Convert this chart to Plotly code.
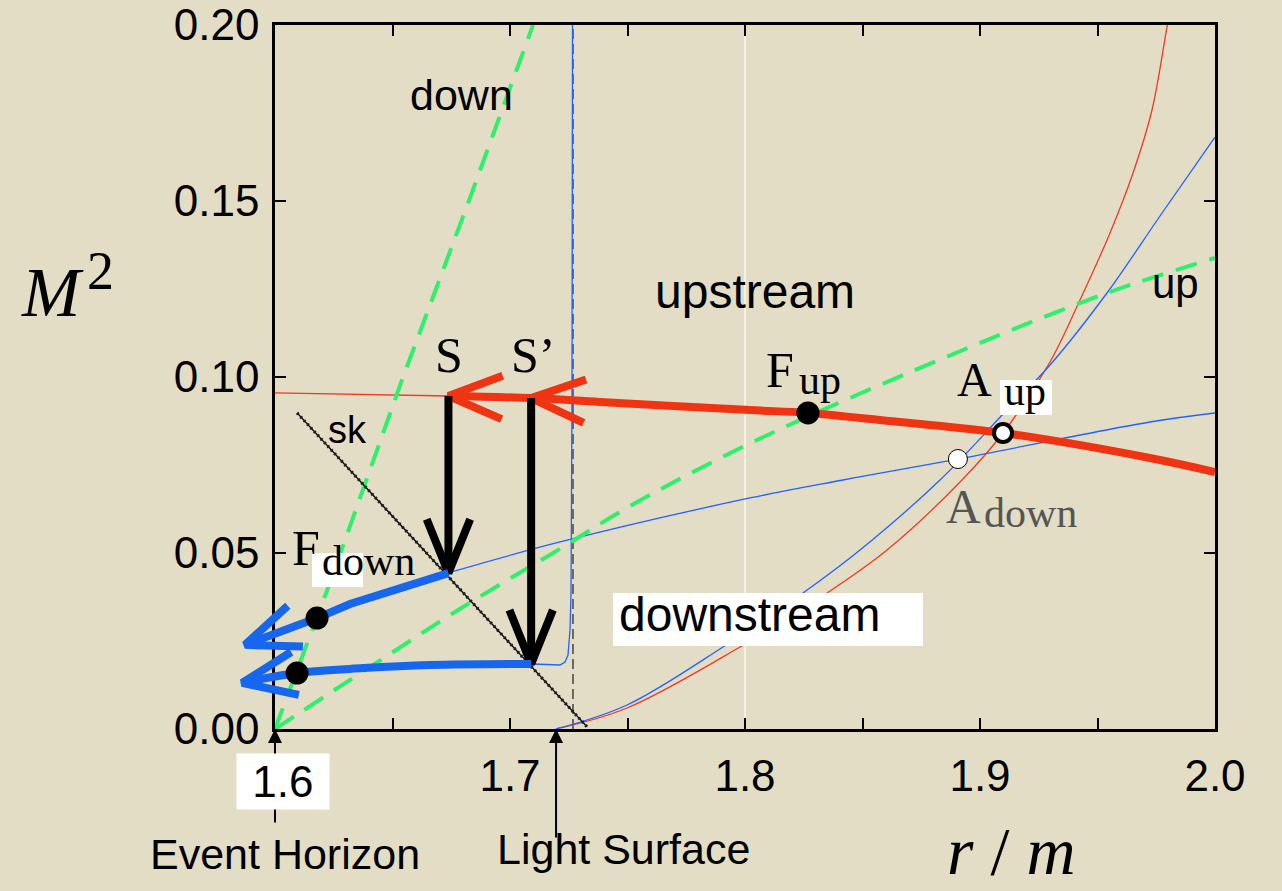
import math
import plotly.graph_objects as go

# ---------------- data (r/m , M^2) ----------------
x_range = [1.6, 2.0]
y_range = [0.0, 0.2]
x_tick_vals = [1.6, 1.65, 1.7, 1.75, 1.8, 1.85, 1.9, 1.95, 2.0]
x_tick_text = ["", "", "1.7", "", "1.8", "", "1.9", "", "2.0"]
y_tick_vals = [0.0, 0.05, 0.10, 0.15, 0.20]
y_tick_text = ["0.00", "0.05", "0.10", "0.15", "0.20"]

light_surface_r = 1.7268
event_horizon_r = 1.6
light_arrow_r = 1.7196

# thick red: upstream flow line (from S to the right edge)
up_flow_r = [1.6738, 1.7090, 1.7383, 1.8021, 1.8268, 1.8660, 1.9098, 1.9723, 2.0]
up_flow_m2 = [0.0946, 0.0940, 0.0929, 0.0906, 0.0898, 0.0872, 0.0841, 0.0770, 0.0730]
# thin red continuation left of S
up_thin_r = [1.6, 1.6738]
up_thin_m2 = [0.0955, 0.0946]

# thin red rising branch
red_rise_r = [1.71957, 1.74979, 1.79787, 1.83489, 1.86043, 1.89234, 1.90979, 1.92979,
              1.94255, 1.95532, 1.96511, 1.97319, 1.97957, 1.98021]
red_rise_m2 = [0.0, 0.00597, 0.02330, 0.03864, 0.05085, 0.07074, 0.08409, 0.10426,
               0.12188, 0.14091, 0.15795, 0.17585, 0.19943, 0.20142]

# thin blue rising branch (through A_down)
blue_rise_r = [1.71957, 1.74979, 1.79064, 1.82468, 1.84894, 1.88298, 1.91064, 1.92979,
               1.95404, 1.97660, 2.0]
blue_rise_m2 = [0.0, 0.00682, 0.02330, 0.03864, 0.05085, 0.07074, 0.09006, 0.10341,
                0.12386, 0.14574, 0.16818]

# thin blue shallow branch (S -> right edge, through A_down)
blue_flat_r = [1.67362, 1.72128, 1.80213, 1.84170, 1.89064, 1.97234, 2.0]
blue_flat_m2 = [0.04432, 0.05313, 0.06563, 0.07074, 0.07670, 0.08722, 0.08977]

# thin blue branch hugging the light surface (from S' bottom)
blue_ls_r = [1.70936, 1.72128, 1.72340, 1.72468, 1.72553, 1.72596, 1.72638, 1.72660]
blue_ls_m2 = [0.01847, 0.01818, 0.01903, 0.02102, 0.02813, 0.03864, 0.09347, 0.20142]

# green dashed lines
green_down_r = [1.6, 1.6225, 1.6545, 1.6825, 1.7098]
green_down_m2 = [0.0, 0.0400, 0.1000, 0.1500, 0.2000]
green_up_r = [1.6, 1.64043, 1.68, 1.72255, 1.75021, 1.80511, 1.89277, 1.95404, 2.0]
green_up_m2 = [0.0, 0.01761, 0.03466, 0.05170, 0.06300, 0.08210, 0.10767, 0.12386, 0.13380]

# shock line "sk"
sk_r = [1.6094, 1.7328]
sk_m2 = [0.0898, 0.0006]

# shocks S and S'
S_r, S_top, S_bot = 1.6738, 0.0946, 0.0443
Sp_r, Sp_top, Sp_bot = 1.7090, 0.0940, 0.0185

# thick blue downstream flows (ending in arrows beyond the horizon)
down1_r = [1.6738, 1.6532, 1.6319, 1.6179, 1.5872]
down1_m2 = [0.0443, 0.0401, 0.0355, 0.0315, 0.0239]
down2_r = [1.7090, 1.6660, 1.6375, 1.6094, 1.5860]
down2_m2 = [0.0185, 0.0182, 0.0173, 0.0159, 0.0131]

# critical points
F_up = (1.8268, 0.0898)
A_up = (1.9098, 0.0841)
A_down = (1.8906, 0.0767)
F_down_r = [1.6179, 1.6094]
F_down_m2 = [0.0315, 0.0159]

# ---------------- layout constants ----------------
W, H = 1282, 891
ML, MR, MT, MB = 200, 67, 25, 162
AREA_W = W - ML - MR
EXT_PX = 75
PLOT_W = AREA_W - EXT_PX
PLOT_H = H - MT - MB
KX = PLOT_W / (x_range[1] - x_range[0])
KY = PLOT_H / (y_range[1] - y_range[0])
dom0 = EXT_PX / AREA_W
x2_range = [x_range[0] - EXT_PX / KX, x_range[1]]

BG = "#e3ddc5"
RED = "#ef3414"
RED_T = "#f03a22"
BLUE = "#1766ee"
BLUE_T = "#2262ff"
GREEN = "#2ef06a"
SANS = "Liberation Sans"
SERIF = "Liberation Serif"

fig = go.Figure()


def add_line(x, y, color, width, dash=None, axis="x", shape="linear"):
    fig.add_trace(go.Scatter(x=x, y=y, mode="lines", xaxis=axis, yaxis="y",
                             line=dict(color=color, width=width, dash=dash, shape=shape),
                             hoverinfo="skip", showlegend=False))


def chevron(tip, tail, length=58.0, half_angle=22.0):
    dx = (tail[0] - tip[0]) * KX
    dy = (tail[1] - tip[1]) * KY
    n = math.hypot(dx, dy)
    ux, uy = dx / n, dy / n
    pts = []
    for s in (1, -1):
        a = math.radians(half_angle * s)
        rx = ux * math.cos(a) - uy * math.sin(a)
        ry = ux * math.sin(a) + uy * math.cos(a)
        pts.append((tip[0] + rx * length / KX, tip[1] + ry * length / KY))
    return [pts[0][0], tip[0], pts[1][0]], [pts[0][1], tip[1], pts[1][1]]


# artefact white vertical line
add_line([1.8, 1.8], y_range, "white", 1.2)
# light surface
add_line([light_surface_r, light_surface_r], y_range, "#444444", 1.5, dash="10px,5px")
# thin curves
add_line(red_rise_r, red_rise_m2, RED_T, 1.3, shape="spline")
add_line(blue_rise_r, blue_rise_m2, BLUE_T, 1.3, shape="spline")
add_line(blue_flat_r, blue_flat_m2, BLUE_T, 1.3, shape="spline")
add_line(blue_ls_r, blue_ls_m2, BLUE_T, 1.3)
add_line(up_thin_r, up_thin_m2, RED_T, 1.3)
# green dashed
add_line(green_down_r, green_down_m2, GREEN, 4, dash="22px,13px")
add_line(green_up_r, green_up_m2, GREEN, 4, dash="22px,13px", shape="spline")
# sk line
add_line(sk_r, sk_m2, "black", 1.4)
add_line(sk_r, sk_m2, "#222222", 3.2, dash="2px,3px")
# thick red upstream flow + chevrons
add_line(up_flow_r, up_flow_m2, RED, 8, shape="spline")
for tip, tail in [((S_r, S_top), (Sp_r, Sp_top)), ((Sp_r, Sp_top), (up_flow_r[2], up_flow_m2[2]))]:
    cx, cy = chevron(tip, tail)
    add_line(cx, cy, RED, 8)
# black shock jumps
for r, top, bot in [(S_r, S_top, S_bot), (Sp_r, Sp_top, Sp_bot)]:
    add_line([r, r], [top, bot], "black", 8)
    cx, cy = chevron((r, bot), (r, top))
    add_line(cx, cy, "black", 8)
# thick blue downstream flows (on extended subplot so arrows pass the horizon)
add_line(down1_r, down1_m2, BLUE, 8, axis="x2")
add_line(down2_r, down2_m2, BLUE, 8, axis="x2", shape="spline")
for rr, mm in [(down1_r, down1_m2), (down2_r, down2_m2)]:
    cx, cy = chevron((rr[-1], mm[-1]), (rr[-2], mm[-2]))
    add_line(cx, cy, BLUE, 8, axis="x2")

# markers
fig.add_trace(go.Scatter(x=[F_up[0]], y=[F_up[1]], mode="markers", xaxis="x", yaxis="y",
                         marker=dict(size=23, color="black"), hoverinfo="skip", showlegend=False))
fig.add_trace(go.Scatter(x=[A_down[0]], y=[A_down[1]], mode="markers", xaxis="x", yaxis="y",
                         marker=dict(size=19, color="white", line=dict(color="black", width=1)),
                         hoverinfo="skip", showlegend=False))
fig.add_trace(go.Scatter(x=[A_up[0]], y=[A_up[1]], mode="markers", xaxis="x", yaxis="y",
                         marker=dict(size=18, color="white", line=dict(color="black", width=4)),
                         hoverinfo="skip", showlegend=False))
fig.add_trace(go.Scatter(x=F_down_r, y=F_down_m2, mode="markers", xaxis="x2", yaxis="y",
                         marker=dict(size=23, color="black"), hoverinfo="skip", showlegend=False))

# white label boxes
for x0, x1, y0, y1 in [(1.74383, 1.87574, 0.02358, 0.03864),
                       (1.90851, 1.93064, 0.08920, 0.09915),
                       (1.61574, 1.63745, 0.04034, 0.05000)]:
    fig.add_shape(type="rect", xref="x", yref="y", x0=x0, x1=x1, y0=y0, y1=y1,
                  fillcolor="white", line=dict(width=0), layer="above")

ann = []


def label(text, x, y, size, family, color="black", xanchor="center", xref="x", yref="y",
          yanchor="middle", **kw):
    ann.append(dict(text=text, x=x, y=y, xref=xref, yref=yref, showarrow=False,
                    xanchor=xanchor, yanchor=yanchor,
                    font=dict(family=family, size=size, color=color), **kw))


# arrows for event horizon / light surface
ann.append(dict(text="", x=event_horizon_r, y=0, xref="x", yref="y", ax=0, ay=95,
                showarrow=True, arrowhead=2, arrowsize=1.4, arrowwidth=2, arrowcolor="black", standoff=0))
ann.append(dict(text="", x=light_arrow_r, y=0, xref="x", yref="y", ax=0, ay=110,
                showarrow=True, arrowhead=2, arrowsize=1.4, arrowwidth=2, arrowcolor="black", standoff=0))
# 1.6 tick label with white box
label("\u00a01.6\u00a0", 0.0818, -0.074, 44, SANS, xref="paper", yref="paper",
      bgcolor="white", borderpad=3)

label("S", 1.67404, 0.10625, 50, SERIF)
label("S\u2019", 1.70979, 0.10625, 50, SERIF)
label("F", 1.81489, 0.10199, 50, SERIF)
label("up", 1.82213, 0.09915, 42, SERIF, xanchor="left")
label("A", 1.89787, 0.09915, 48, SERIF)
label("up", 1.90936, 0.09602, 42, SERIF, xanchor="left")
label("A", 1.89277, 0.06307, 48, SERIF, color="#555555")
label("down", 1.90085, 0.06136, 42, SERIF, color="#555555", xanchor="left")
label("F", 1.61319, 0.05142, 50, SERIF)
label("down", 1.61915, 0.04773, 42, SERIF, xanchor="left")
label("sk", 1.63064, 0.08494, 38, SANS)
label("down", 1.67915, 0.18011, 43, SANS)
label("up", 1.98298, 0.12670, 42, SANS)
label("upstream", 1.80426, 0.12443, 48, SANS)
label("downstream", 1.74553, 0.03239, 48, SANS, xanchor="left")

label("<i>M</i>", -0.14483, 0.61932, 70, SERIF, xref="paper", yref="paper")
label("2", -0.09754, 0.65057, 54, SERIF, xref="paper", yref="paper")
label("<i>r</i> / <i>m</i>", 0.79901, -0.2290, 68, SERIF, xref="paper", yref="paper",
      yanchor="bottom", borderpad=0)
label("Event Horizon", 0.08374, -0.17756, 43, SANS, xref="paper", yref="paper")
label("Light Surface", 0.41773, -0.17045, 43, SANS, xref="paper", yref="paper")

axis_common = dict(ticks="inside", ticklen=11, tickwidth=2, tickcolor="black",
                   showline=True, linewidth=2.5, linecolor="black", mirror="ticks",
                   showgrid=False, zeroline=False, automargin=False,
                   tickfont=dict(family=SANS, size=44, color="black"))

fig.update_layout(
    width=W, height=H,
    margin=dict(l=ML, r=MR, t=MT, b=MB, pad=0, autoexpand=False),
    paper_bgcolor=BG, plot_bgcolor="rgba(0,0,0,0)",
    showlegend=False,
    annotations=ann,
    xaxis=dict(domain=[dom0, 1], range=x_range, tickvals=x_tick_vals, ticktext=x_tick_text,
               anchor="y", ticklabelstandoff=6, **axis_common),
    xaxis2=dict(domain=[0, 1], range=x2_range, visible=False, anchor="y", automargin=False),
    yaxis=dict(domain=[0, 1], range=y_range, tickvals=y_tick_vals, ticktext=y_tick_text,
               anchor="x", ticklabelstandoff=4, **axis_common),
)

fig.write_html(
    "out.html",
    config={"displayModeBar": False},
    post_script="document.body.style.margin='0';document.body.style.background='" + BG + "';",
)
